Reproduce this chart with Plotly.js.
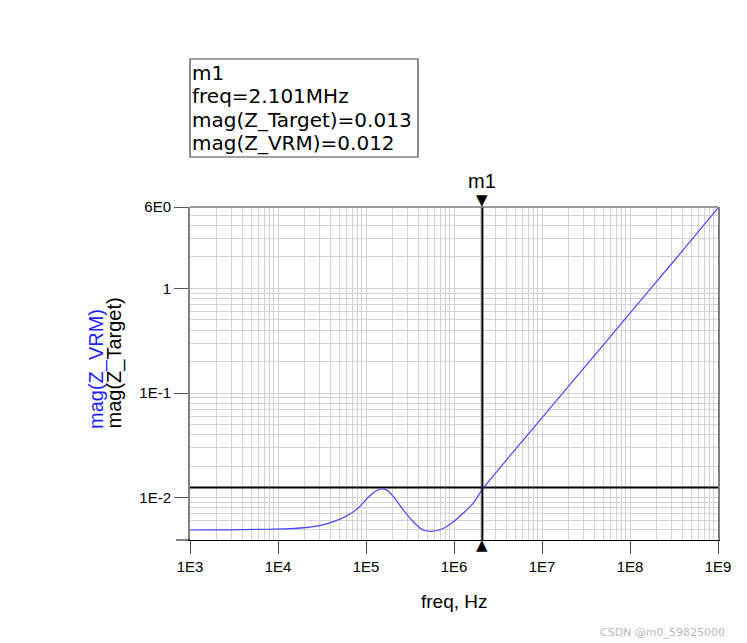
<!DOCTYPE html>
<html>
<head>
<meta charset="utf-8">
<script src="https://cdn.plot.ly/plotly-3.0.1.min.js"></script>
<style>
  html, body { margin: 0; padding: 0; background: #fff; }
  #chart { width: 747px; height: 643px; }
</style>
</head>
<body>
<div id="chart"></div>
<script>
// ---- data ----
const freqHz = [1e3, 2e3, 4e3, 8e3, 1.42e4, 2.97e4, 4.6e4, 6.52e4, 8.47e4, 1.1e5, 1.31e5, 1.5e5, 1.78e5, 2.12e5, 2.75e5, 3.58e5, 4.45e5, 5.53e5, 7.19e5, 9.35e5, 1.27e6, 1.65e6, 2.14e6, 2.78e6, 5e6, 1e7, 3e7, 1e8, 3e8, 1e9];
const magZVRM = [0.00491, 0.00492, 0.00495, 0.00499, 0.00505, 0.0054, 0.00603, 0.00694, 0.0082, 0.01038, 0.01166, 0.01211, 0.01166, 0.00987, 0.00734, 0.00569, 0.00491, 0.00476, 0.00499, 0.00569, 0.0071, 0.00884, 0.0123, 0.0161, 0.0291, 0.058, 0.174, 0.58, 1.74, 5.85];
const targetFreqHz = [1e3, 1e9];
const magZTarget = [0.0125, 0.0125];
const markerName = 'm1';
const markerFreqHz = 2.101e6;
const markerLines = ['m1', 'freq=2.101MHz', 'mag(Z_Target)=0.013', 'mag(Z_VRM)=0.012'];
const xTickVals = [1e3, 1e4, 1e5, 1e6, 1e7, 1e8, 1e9];
const xTickText = ['1E3', '1E4', '1E5', '1E6', '1E7', '1E8', '1E9'];
const yTickVals = [6, 1, 0.1, 0.01];
const yTickText = ['6E0', '1', '1E-1', '1E-2'];
const yMin = 0.00394, yMax = 6;

// minor grid values (digits 2..9 of each decade)
function minorVals(lo, hi) {
  const out = [];
  for (let k = Math.floor(Math.log10(lo)); k <= Math.ceil(Math.log10(hi)); k++) {
    for (let d = 2; d <= 9; d++) {
      const v = d * Math.pow(10, k);
      if (v > lo && v < hi) out.push(v);
    }
  }
  return out;
}

const FONT = 'Liberation Sans, Arial, Helvetica, sans-serif';
const BOXFONT = 'DejaVu Sans, Liberation Sans, Arial, sans-serif';
const GRID = '#d2d2d2';

const traces = [
  { x: targetFreqHz, y: magZTarget, mode: 'lines', line: { color: '#000', width: 2 }, hoverinfo: 'skip' },
  { x: freqHz, y: magZVRM, mode: 'lines', line: { color: 'rgb(70,70,255)', width: 1.2, shape: 'spline', smoothing: 0.6 } },
  { x: [markerFreqHz, markerFreqHz], y: [yMin, yMax], mode: 'lines', line: { color: '#000', width: 2 }, hoverinfo: 'skip' }
];

const pxW = 528, pxH = 333; // plot area size used for paper placement of decorations
const py = (pix) => (540 - pix) / pxH;  // page y pixel -> paper
const px = (pix) => (pix - 190) / pxW;  // page x pixel -> paper

const annotations = [];
const lineCenters = [72.5, 96, 119.5, 143];
markerLines.forEach((t, i) => {
  annotations.push({ xref: 'paper', yref: 'paper', x: px(191), y: py(lineCenters[i]), xanchor: 'left', yanchor: 'middle',
    text: t, showarrow: false, borderpad: 0, font: { family: BOXFONT, size: 20, color: '#000' } });
});
annotations.push({ xref: 'x', yref: 'paper', x: Math.log10(markerFreqHz), y: 1, yanchor: 'bottom', yshift: 13,
  text: markerName, showarrow: false, font: { family: FONT, size: 20, color: '#000' } });
annotations.push({ xref: 'x', yref: 'paper', x: Math.log10(markerFreqHz), y: 1, yanchor: 'bottom', yshift: -4,
  text: '▼', showarrow: false, font: { family: 'DejaVu Sans', size: 15, color: '#000' } });
annotations.push({ xref: 'x', yref: 'paper', x: Math.log10(markerFreqHz), y: 0, yanchor: 'top', yshift: 6,
  text: '▲', showarrow: false, font: { family: 'DejaVu Sans', size: 15, color: '#000' } });
annotations.push({ xref: 'paper', yref: 'paper', x: px(96), y: py(431), xanchor: 'center', yanchor: 'bottom', textangle: -90,
  text: 'mag(Z_VRM)', showarrow: false, font: { family: FONT, size: 20, color: '#1f1fff' } });
annotations.push({ xref: 'paper', yref: 'paper', x: px(114), y: py(431), xanchor: 'center', yanchor: 'bottom', textangle: -90,
  text: 'mag(Z_Target)', showarrow: false, font: { family: FONT, size: 20, color: '#000' } });
annotations.push({ xref: 'paper', yref: 'paper', x: px(454), y: py(601), xanchor: 'center', yanchor: 'middle',
  text: 'freq, Hz', showarrow: false, font: { family: FONT, size: 19, color: '#000' } });
annotations.push({ xref: 'paper', yref: 'paper', x: px(727), y: py(632), xanchor: 'right', yanchor: 'middle',
  text: 'CSDN @m0_59825000', showarrow: false, font: { family: 'DejaVu Sans', size: 11, color: '#b8b8b8' } });

const shapes = [
  // marker readout box
  { type: 'rect', xref: 'paper', yref: 'paper', x0: px(190), x1: px(418), y0: py(157), y1: py(59),
    line: { color: '#444', width: 1.2 }, fillcolor: 'rgba(0,0,0,0)' },
  // top border of plot
  { type: 'line', xref: 'paper', yref: 'paper', x0: 0, x1: 1, y0: 1, y1: 1, line: { color: '#7a7a7a', width: 1.5 } },
  // x axis line extension to the left
  { type: 'line', xref: 'paper', yref: 'paper', x0: px(176), x1: 0, y0: 0, y1: 0, line: { color: '#000', width: 1 } }
];

const layout = {
  width: 747, height: 643,
  margin: { l: 190, r: 29, t: 207, b: 103, pad: 0 },
  paper_bgcolor: '#fff', plot_bgcolor: '#fff',
  showlegend: false,
  font: { family: FONT, color: '#000' },
  xaxis: {
    type: 'log', range: [3, 9], tickmode: 'array', tickvals: xTickVals, ticktext: xTickText,
    ticks: 'outside', ticklen: 13, tickcolor: '#444', tickwidth: 1,
    showgrid: true, gridcolor: GRID, gridwidth: 1,
    minor: { tickmode: 'array', tickvals: minorVals(1e3, 1e9), showgrid: true, gridcolor: GRID, gridwidth: 1, ticks: '' },
    showline: true, linecolor: '#000', linewidth: 1, zeroline: false,
    tickfont: { family: FONT, size: 15, color: '#000' }
  },
  yaxis: {
    type: 'log', range: [Math.log10(yMin), Math.log10(yMax)], tickmode: 'array', tickvals: yTickVals, ticktext: yTickText,
    ticks: 'outside', ticklen: 14, tickcolor: '#555', tickwidth: 1,
    showgrid: true, gridcolor: GRID, gridwidth: 1,
    minor: { tickmode: 'array', tickvals: minorVals(yMin, yMax), showgrid: true, gridcolor: GRID, gridwidth: 1, ticks: '' },
    showline: true, linecolor: '#808080', linewidth: 2, mirror: true, zeroline: false,
    tickfont: { family: FONT, size: 15, color: '#000' }
  },
  annotations: annotations,
  shapes: shapes
};

Plotly.newPlot('chart', traces, layout, { staticPlot: true, displayModeBar: false });
</script>
</body>
</html>
